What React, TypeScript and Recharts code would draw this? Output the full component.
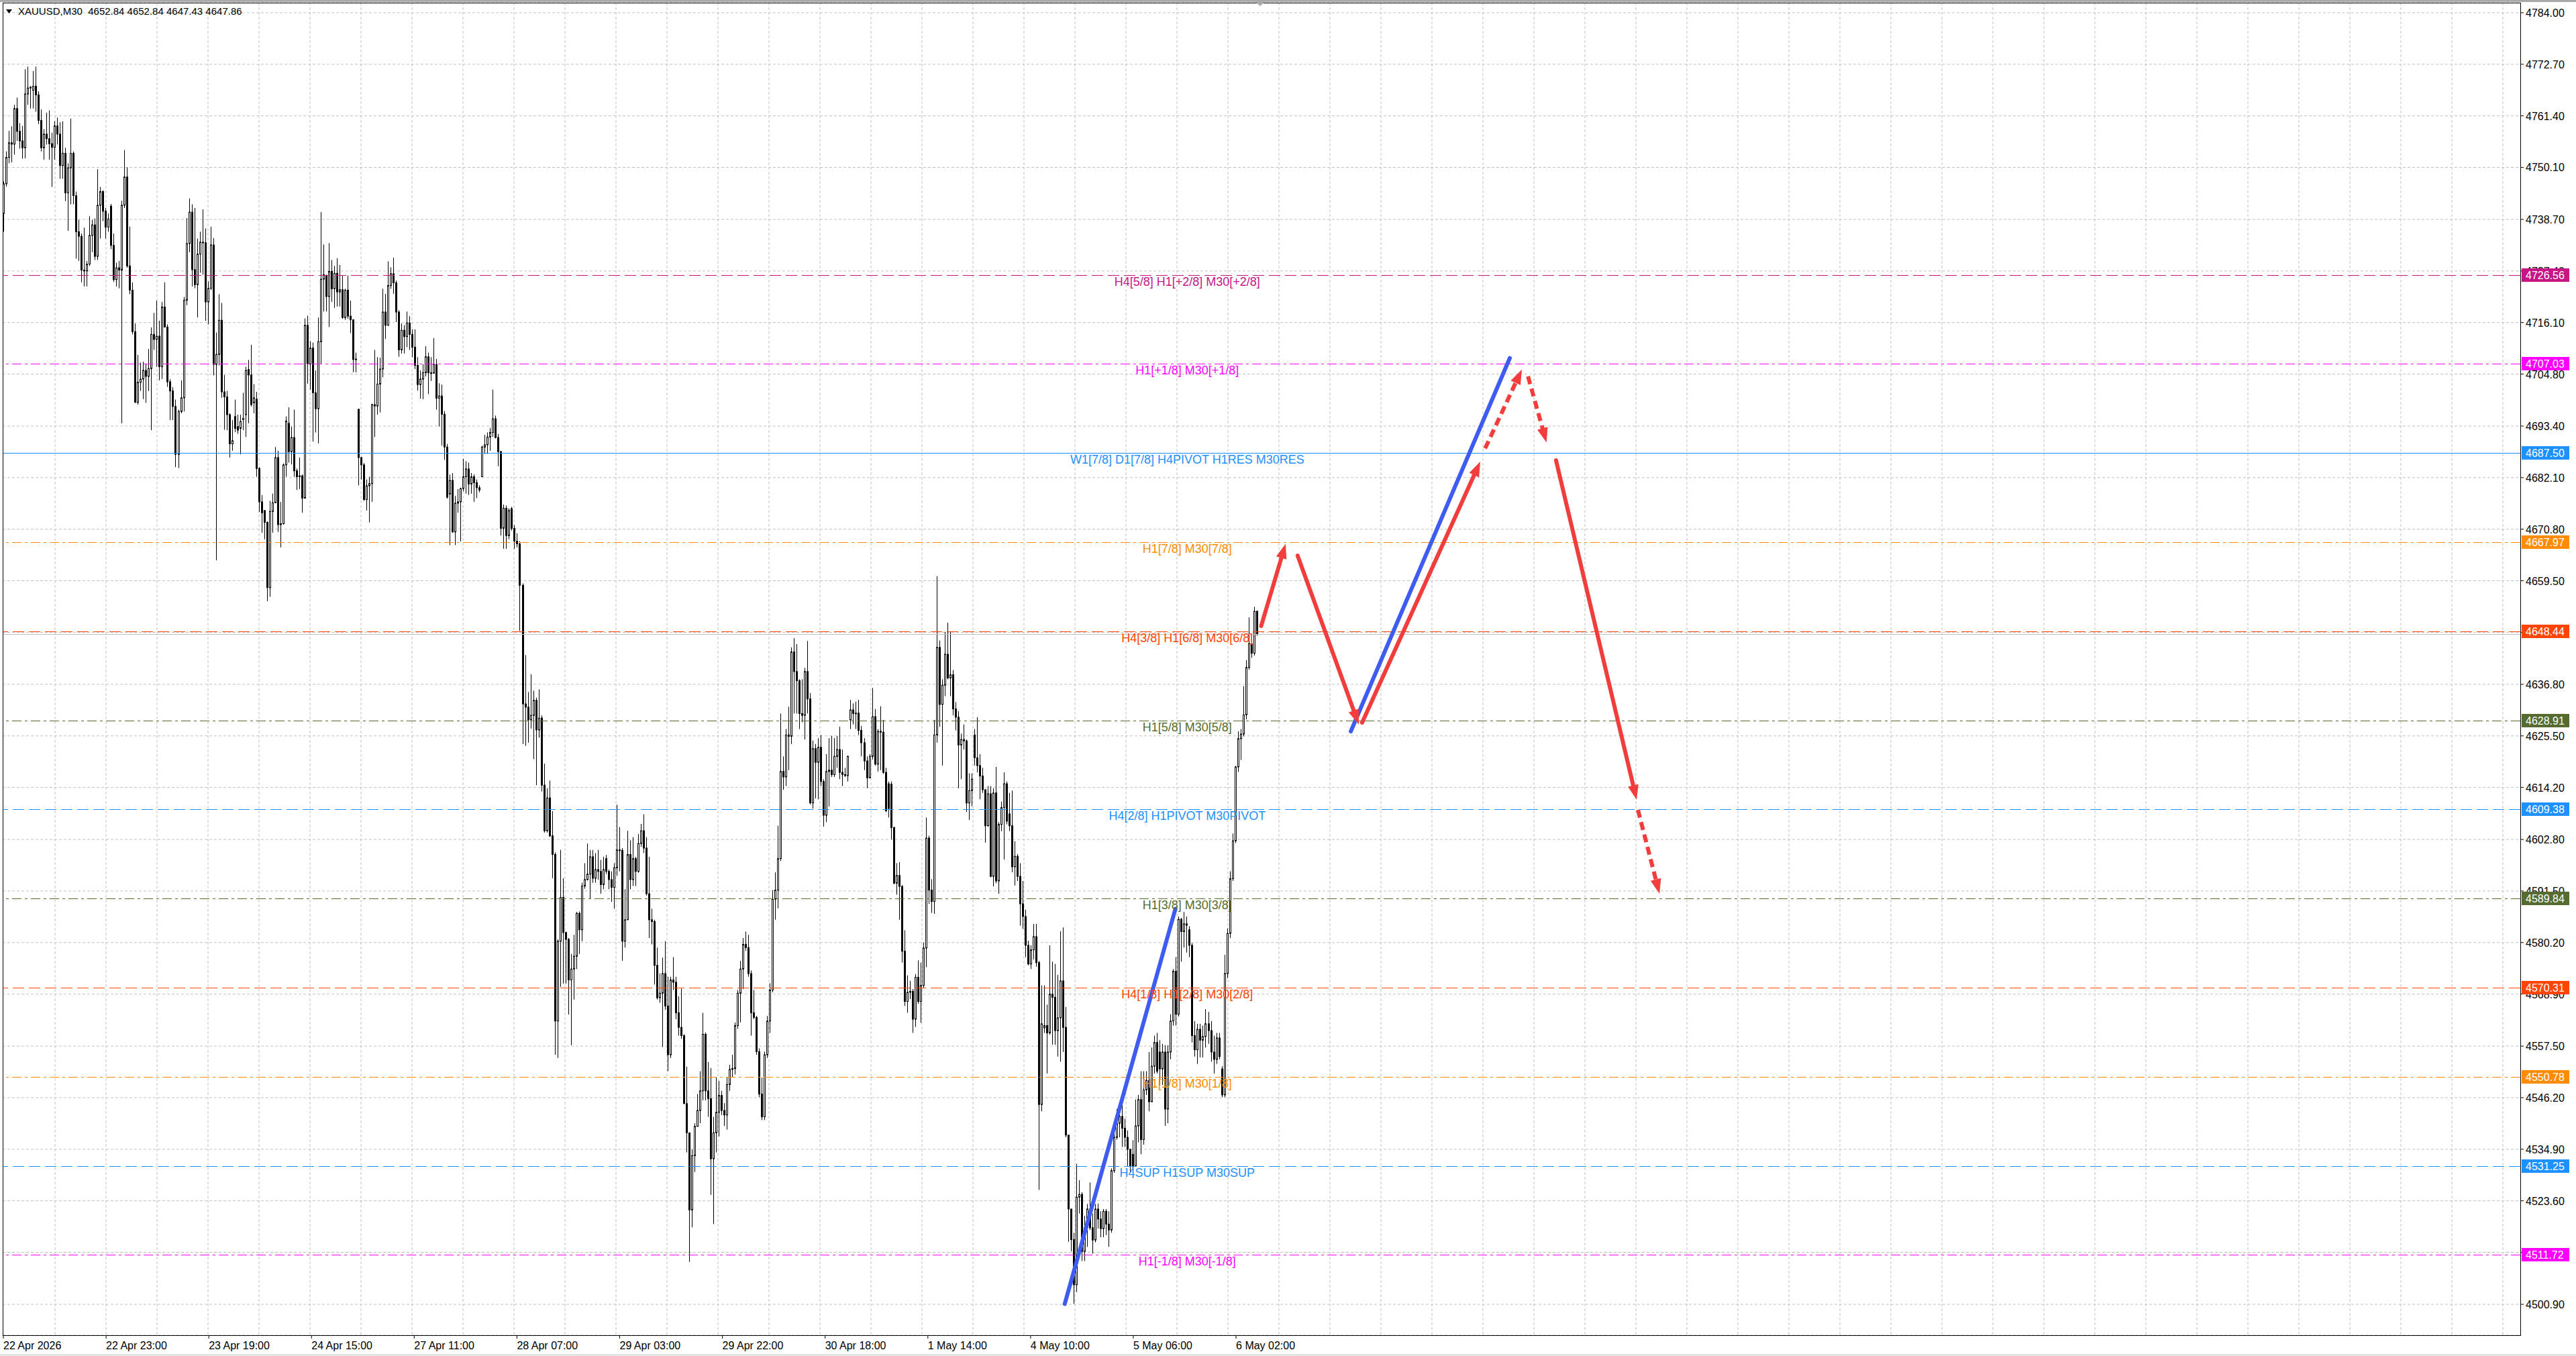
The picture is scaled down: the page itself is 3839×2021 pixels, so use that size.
import React from 'react';
import {
  ComposedChart,
  Bar,
  XAxis,
  YAxis,
  CartesianGrid,
  ReferenceLine,
  ReferenceDot,
} from 'recharts';

// XAUUSD M30 candles, [open, high, low, close] left to right
const CANDLES_A: [number, number, number, number][] = [
  [4740, 4747, 4736, 4746.5], [4746.5, 4753.6, 4745.9, 4752.3], [4752.3, 4758.1, 4751, 4755.5], [4755.5, 4759.1, 4751.2, 4755.2],
  [4755.2, 4763.8, 4752.9, 4763], [4763, 4765.4, 4755.9, 4758], [4758, 4759.8, 4754.2, 4755.9], [4755.9, 4759.2, 4752, 4754.4],
  [4754.4, 4771.6, 4752.1, 4766.2], [4766.2, 4772.2, 4763.8, 4767.5], [4767.5, 4767.9, 4763, 4767.7], [4767, 4771.2, 4763, 4767.9],
  [4767.9, 4772.2, 4762.3, 4766], [4766, 4766.8, 4759.6, 4760.4], [4760.4, 4762.8, 4753.6, 4754.4], [4754.4, 4758.5, 4751.8, 4757.4],
  [4757.4, 4762.1, 4755.1, 4756.4], [4756.4, 4762.6, 4751.8, 4755.3], [4755.3, 4757.7, 4745.8, 4754.5], [4754.5, 4760.2, 4751.8, 4759.2],
  [4759.2, 4761, 4755.1, 4757.4], [4757.4, 4760, 4747.6, 4750.5], [4750.5, 4760.2, 4747.6, 4753.2], [4753.2, 4754.4, 4742.7, 4744.5],
  [4744.5, 4751, 4736.2, 4750], [4750, 4760.8, 4742, 4753.2], [4753.2, 4753.6, 4742, 4743.9], [4743.9, 4744.8, 4730.1, 4736],
  [4736, 4738.6, 4729.6, 4735], [4735, 4735.6, 4724.9, 4727.6], [4727.6, 4736.9, 4724, 4727.4], [4727.4, 4729.6, 4724, 4728.9],
  [4728.9, 4739.4, 4728.5, 4735.2], [4735.2, 4738.6, 4731.5, 4737.5], [4737.5, 4738.9, 4729.8, 4730.6], [4730.6, 4749.7, 4729.8, 4741.8],
  [4741.8, 4745.8, 4734.5, 4744.8], [4744.8, 4745.1, 4738.3, 4740.5], [4740.5, 4741.2, 4734.5, 4737], [4737, 4740, 4736, 4738.8],
  [4741.6, 4742.1, 4732.2, 4733], [4733, 4735.6, 4725, 4725.5], [4725.5, 4729.2, 4724, 4728.1], [4728.1, 4729.6, 4723.6, 4727.6],
  [4727.6, 4742.8, 4694, 4741.8], [4741.8, 4753.9, 4741.2, 4748], [4748, 4750.1, 4728.1, 4728.5], [4728.5, 4737.1, 4722.3, 4723.2],
  [4723.2, 4724.9, 4713.5, 4714.1], [4714.1, 4715.9, 4698.5, 4698.6], [4698.6, 4709, 4698.1, 4703], [4703, 4707.3, 4701.1, 4703.7],
  [4703.7, 4707.5, 4699.3, 4705.6], [4705.6, 4707.1, 4698.5, 4704.3], [4704.3, 4710.3, 4701.1, 4706], [4706, 4715, 4692.5, 4713.5],
  [4713.5, 4718.2, 4710.1, 4712.4], [4712.4, 4720.9, 4706.4, 4713.1], [4713.1, 4716.5, 4703.4, 4706.4], [4706.4, 4720.6, 4703.7, 4719.5],
  [4719.5, 4724.9, 4715, 4715.1], [4715.1, 4715.7, 4702, 4703.1], [4703.1, 4703.7, 4694.7, 4701.1], [4701.1, 4701.9, 4694.7, 4697.7],
  [4697.7, 4699.2, 4684.4, 4687.2], [4687.2, 4697, 4684.2, 4696.6], [4696.6, 4703.4, 4696.2, 4699.6], [4699.6, 4721.7, 4696.6, 4721],
  [4721, 4739, 4719.9, 4733.4], [4733.4, 4743.3, 4731.5, 4740.3], [4740.3, 4742, 4724, 4727.7], [4727.7, 4741.2, 4723.6, 4724.4],
  [4724.4, 4734.5, 4717.2, 4731.1], [4731.1, 4736, 4727, 4733.7], [4733.7, 4740.9, 4726.6, 4733.6], [4733.6, 4736.7, 4716.5, 4720.6],
  [4720.6, 4725.1, 4715.7, 4723.6], [4723.6, 4737.1, 4723.2, 4733.1], [4733.1, 4734.6, 4704.5, 4706.9], [4706.9, 4713.9, 4664, 4709.1],
  [4709.1, 4722.3, 4706.7, 4716.6], [4716.6, 4720.4, 4699.6, 4700.9], [4700.9, 4704.6, 4692.6, 4699.8], [4699.8, 4701.1, 4692.5, 4695.9],
  [4695.9, 4696.2, 4686.5, 4689.5], [4689.5, 4694.7, 4688, 4690.2], [4695.5, 4699.2, 4692.1, 4692.9], [4693.3, 4695.9, 4691.7, 4692.5],
  [4692.9, 4695.9, 4687.2, 4694.4], [4694.8, 4700.7, 4692.5, 4695.1], [4695.9, 4706.4, 4691, 4705.6], [4705.8, 4707.9, 4694, 4704.6],
  [4704.6, 4711.2, 4697.7, 4698.1], [4698.5, 4702.6, 4696.2, 4699.6],
];

const CANDLES_B: [number, number, number, number][] = [
  [4699.3, 4700.9, 4682.3, 4684.1], [4684.1, 4684.4, 4674.6, 4676.8], [4676.8, 4678.3, 4670, 4674.4], [4674.9, 4674.9, 4668.6, 4672.3],
  [4672.3, 4672.5, 4655, 4658], [4658, 4677, 4656, 4674.7], [4674.7, 4678.6, 4670, 4676.6], [4676.6, 4688.8, 4676.5, 4686.5],
  [4686.5, 4688, 4670.2, 4671.8], [4671.8, 4676.8, 4666.8, 4672], [4672, 4685.2, 4671.8, 4684.9], [4684.9, 4695.5, 4682.3, 4694.5],
  [4694, 4697.5, 4685.4, 4687.8], [4687.8, 4693.3, 4685, 4690.9], [4690.9, 4697, 4682.3, 4683.6], [4683.6, 4684.1, 4679.4, 4682.3],
  [4682.3, 4686.5, 4679.6, 4682.5], [4682.5, 4682.8, 4674.4, 4677.6], [4677.6, 4717, 4677.6, 4715.5], [4715.5, 4717.6, 4702.7, 4707],
  [4707, 4712, 4701.4, 4710.5], [4710.5, 4711.7, 4690, 4700.7], [4700.7, 4705.6, 4692, 4697.2], [4697.2, 4717.2, 4689.6, 4711.9],
  [4711.9, 4740.3, 4707, 4725.6], [4725.6, 4733.2, 4718.5, 4726.6], [4726.4, 4726.6, 4718.5, 4721.8], [4721.8, 4733.5, 4715.1, 4727.3],
  [4727.3, 4729.8, 4720.6, 4723.5], [4723.5, 4728.5, 4719.3, 4726.9], [4726.9, 4730.2, 4719.6, 4722.8], [4722.8, 4728.7, 4719.6, 4723.3],
  [4723.3, 4726.4, 4716.9, 4717.2], [4717.2, 4723.5, 4716.7, 4723.2], [4723.2, 4726.4, 4716.9, 4717.5], [4717.5, 4720.9, 4713.8, 4716.7],
  [4716.7, 4716.7, 4705.2, 4708], [4708, 4709.5, 4705.2, 4708.1],
  [4697.1, 4697.1, 4680.4, 4686.5], [4686.5, 4686.7, 4681.7, 4684.9], [4684.9, 4685.3, 4677, 4677.3], [4677.3, 4681.7, 4674.9, 4680.3],
  [4680.3, 4682.3, 4672.3, 4680.8], [4680.8, 4698.3, 4676.8, 4698.1], [4698.1, 4710.1, 4691, 4697.8], [4697.8, 4708.5, 4695.9, 4702.6],
  [4702.6, 4708.4, 4696.4, 4705.9], [4705.9, 4723.5, 4704.1, 4718.4], [4718.4, 4722.4, 4712.5, 4715.5], [4715.5, 4729.5, 4715.4, 4724.2],
  [4724.2, 4728.2, 4723.5, 4726.8], [4726.8, 4730.3, 4722.4, 4724.8], [4724.8, 4725.3, 4716.2, 4718.4], [4718.4, 4718.8, 4708.6, 4710.1],
  [4710.1, 4715.9, 4709.3, 4714.4], [4714.4, 4715.5, 4709.3, 4713], [4713, 4718.5, 4710.7, 4716], [4716, 4717.5, 4710.1, 4713.5],
  [4713.5, 4714.6, 4708.5, 4710.7], [4710.7, 4714.6, 4705.9, 4706.7], [4706.7, 4708.5, 4701.2, 4702.5], [4702.5, 4705.6, 4699.4, 4703.7],
  [4703.7, 4707, 4699.3, 4705.1], [4705.1, 4710.9, 4704.3, 4708.6], [4708.6, 4709.5, 4700.4, 4705.1], [4705.1, 4708.5, 4703.3, 4705],
  [4705, 4712.7, 4704.9, 4706.9], [4706.9, 4708.1, 4697, 4699.5], [4699.5, 4702.8, 4693.3, 4700], [4700, 4702.5, 4689.1, 4696],
  [4696, 4696.7, 4686, 4688.8], [4688.8, 4689.5, 4677.5, 4677.8], [4678.5, 4682.8, 4667.3, 4681.5], [4681.5, 4683.1, 4670, 4670.2],
  [4670.2, 4678.1, 4667.3, 4676.5], [4676.5, 4679.6, 4674.4, 4676.8], [4676.8, 4679.9, 4668.1, 4679.7], [4679.7, 4686.2, 4679.1, 4682.3],
  [4682.3, 4685.7, 4678.6, 4684], [4684, 4685.4, 4678.3, 4680.7], [4680.7, 4683.1, 4678.6, 4682.3], [4682.3, 4682.8, 4676.8, 4681],
  [4681, 4681.7, 4677.6, 4679.9], [4679.9, 4680.4, 4678.9, 4679.4], [4682.3, 4689.1, 4682.3, 4688.8], [4688.8, 4691.5, 4687.3, 4689.3],
  [4689.3, 4692, 4687.3, 4691], [4691, 4693, 4688, 4692], [4692, 4701.4, 4691, 4695], [4695, 4695.7, 4690.7, 4690.9],
  [4690.9, 4691.7, 4684.6, 4687.8], [4687.8, 4688, 4669.4, 4671], [4671, 4676.2, 4666.5, 4675.4], [4675.4, 4676, 4666.5, 4669.4],
  [4669.4, 4675.4, 4668.6, 4674.9],
];

const CANDLES_C: [number, number, number, number][] = [
  [4675.3, 4675.7, 4670.5, 4671], [4671, 4671.7, 4666.5, 4668.2], [4668.2, 4669.9, 4666.8, 4667.6], [4667.6, 4668.2, 4648.5, 4658.5],
  [4658.5, 4658.9, 4623.7, 4632.5], [4632.5, 4643.2, 4623.3, 4631.8], [4631.8, 4635.1, 4624, 4629], [4629, 4639, 4627.1, 4630],
  [4630, 4635.4, 4620.4, 4633.3], [4633.3, 4633.9, 4614.7, 4626.8], [4626.8, 4635.7, 4625.1, 4629.4], [4629.4, 4630, 4613.3, 4614.7],
  [4614.7, 4619.4, 4604.3, 4604.7], [4604.7, 4614, 4604.3, 4611.9], [4611.9, 4615.7, 4603.3, 4603.6], [4603.6, 4609, 4594.3, 4599.5],
  [4599.5, 4600, 4555.6, 4563], [4563, 4580.9, 4554.9, 4580.5], [4580.5, 4600.5, 4570.5, 4590.1], [4590.1, 4594.3, 4571.2, 4582.4],
  [4582.4, 4582.6, 4571.2, 4580.9], [4580.9, 4581.2, 4564.4, 4572], [4572, 4577.7, 4557.7, 4574.4], [4574.4, 4581.9, 4567.7, 4577.2],
  [4577.2, 4586.9, 4574.4, 4586.6], [4586.6, 4587, 4577.7, 4583], [4583, 4593.3, 4580.5, 4592.6], [4592.6, 4597.6, 4592, 4594],
  [4594, 4601.9, 4593.8, 4595.2], [4595.2, 4600.5, 4589.8, 4599], [4599, 4600.5, 4593.3, 4594.3], [4594.3, 4599.8, 4593.3, 4596.2],
  [4596.2, 4600.5, 4594, 4595.8], [4595.8, 4598.3, 4590.9, 4592.9], [4592.9, 4599, 4591.9, 4596.2], [4598.6, 4599.4, 4595.2, 4595.8],
  [4595.8, 4596.2, 4591.9, 4594], [4594, 4595.8, 4589.1, 4592.3], [4592.3, 4597.6, 4587.6, 4596.6], [4596.6, 4610.4, 4594.8, 4600.5],
  [4600.5, 4605.5, 4595.8, 4600.4], [4600.4, 4600.9, 4576.2, 4580.5], [4580.5, 4591.9, 4579.1, 4585.2], [4585.2, 4604.7, 4585.2, 4599.5],
  [4599.5, 4602.6, 4591.9, 4594], [4594, 4603.3, 4592.6, 4598.6], [4598.6, 4599, 4592.6, 4595.8], [4595.8, 4604, 4595.5, 4601.9],
  [4601.9, 4606.2, 4601.2, 4604.7], [4604.7, 4608.3, 4599.8, 4600.9], [4600.9, 4603.3, 4590.5, 4590.9], [4590.9, 4599, 4581.2, 4585.2],
  [4585.2, 4587.6, 4579.8, 4584.8], [4584.8, 4585.2, 4571, 4575.2], [4575.2, 4579.1, 4567.7, 4568.1], [4568.1, 4573.4, 4567, 4569.1],
  [4569.1, 4576.9, 4557.3, 4573.4], [4573.4, 4580.5, 4565.5, 4566.3], [4566.3, 4572.7, 4552, 4555.6], [4555.6, 4572.7, 4554.9, 4572],
  [4572, 4577, 4569.8, 4571.5], [4571.5, 4572.7, 4563.4, 4564.8], [4564.8, 4568.4, 4559.8, 4561.6], [4561.6, 4570.1, 4559.1, 4559.8],
  [4559.8, 4560.1, 4544.9, 4544.9], [4544.9, 4553, 4534.2, 4538.5], [4538.5, 4538.5, 4510.2, 4521.6], [4521.6, 4534.9, 4517.8, 4533.5],
  [4533.5, 4540.6, 4529.9, 4539.9], [4539.9, 4547, 4539.9, 4543.4], [4543.4, 4552, 4540.6, 4547.7], [4547.7, 4564.8, 4545.6, 4560.1],
  [4560.1, 4560.5, 4545.6, 4547.7], [4547.7, 4554, 4542, 4546], [4546, 4552.7, 4524.9, 4532.8], [4532.8, 4542, 4518.5, 4538.5],
  [4538.5, 4550.6, 4534.2, 4543], [4543, 4549.9, 4537.7, 4546.7], [4546.7, 4547.7, 4542.4, 4543.4], [4543.4, 4545, 4540, 4542.4],
  [4542.4, 4550.6, 4539.2, 4549.1], [4549.1, 4553.4, 4547.7, 4552.4], [4552.4, 4555.6, 4550.6, 4552.6], [4552.6, 4562.7, 4551.3, 4562],
  [4562, 4569.8, 4561.3, 4569.1], [4569.1, 4576.2, 4562.7, 4574.4], [4574.4, 4581.2, 4570, 4579.8], [4579.8, 4582.6, 4578.4, 4579.1],
  [4579.1, 4581.9, 4572.7, 4573.4], [4573.4, 4574.1, 4559.8, 4564.8], [4564.8, 4569.8, 4563.4, 4563.8], [4563.8, 4564.1, 4555.6, 4556.3],
  [4556.3, 4557, 4546.3, 4547], [4547, 4550.6, 4541.3, 4542], [4542, 4556.3, 4541.3, 4555.6], [4555.6, 4564.1, 4554.9, 4563],
];

const CANDLES_D: [number, number, number, number][] = [
  [4563, 4571.3, 4560.4, 4569.8], [4569.8, 4591.7, 4569.3, 4589.7], [4589.7, 4595.6, 4585.2, 4591.7], [4591.7, 4605.8, 4587.7, 4598.6],
  [4598.6, 4630.4, 4598.1, 4617.7], [4617.7, 4621, 4613.7, 4616.5], [4616.5, 4627, 4614.5, 4625.7], [4625.7, 4631.9, 4618, 4625.4],
  [4625.4, 4644.9, 4623.7, 4643.9], [4643.9, 4646.9, 4630.4, 4639.6], [4639.6, 4645.6, 4630.4, 4637.6], [4637.6, 4637.9, 4627, 4630.4],
  [4630.4, 4637.9, 4628.5, 4630], [4630, 4640.4, 4624.7, 4639.6], [4639.6, 4646.3, 4630.4, 4633.6], [4633.6, 4634.9, 4610.5, 4610.8],
  [4610.8, 4624.5, 4609.6, 4622.7], [4622.7, 4623.7, 4611.8, 4619.7], [4619.7, 4625, 4611.6, 4623], [4623, 4625.7, 4614.5, 4615.5],
  [4615.5, 4616, 4605.6, 4608.1], [4608.1, 4621.5, 4606.6, 4617.7], [4617.7, 4625, 4610, 4618], [4618, 4625.5, 4616.5, 4617],
  [4617, 4625, 4616.5, 4621], [4621, 4625.5, 4618.5, 4622.5], [4622.5, 4627.5, 4616, 4617.5], [4617.5, 4622.5, 4614.5, 4617],
  [4617, 4618.5, 4616.5, 4616.8], [4616.8, 4621.2, 4615.5, 4621], [4629, 4633.4, 4627, 4631.2], [4631.2, 4632.6, 4628, 4630.4],
  [4630.4, 4633, 4627, 4630.5], [4630.5, 4633.4, 4625.7, 4626.7], [4626.7, 4627.7, 4621, 4624], [4624, 4625, 4618, 4620],
  [4620, 4621, 4614, 4616.3], [4616.3, 4621.5, 4616.3, 4621], [4621, 4636, 4620.3, 4629.7], [4629.7, 4631.4, 4619, 4619.3],
  [4619.3, 4627, 4617.7, 4626.5], [4626.5, 4632, 4618, 4626.3], [4626.3, 4629, 4617.2, 4617.5], [4617.5, 4618.5, 4608.8, 4609.1],
  [4615, 4615.5, 4607.6, 4609.6], [4614.9, 4615.5, 4602.8, 4605.4], [4605.4, 4605.6, 4593, 4593.2], [4593.2, 4597.6, 4590.7, 4594.9],
  [4594.9, 4597.8, 4585.2, 4592.5], [4592.5, 4592.8, 4575.8, 4578.3], [4578.3, 4582.9, 4566.3, 4567.3], [4567.3, 4573, 4564.8, 4569.3],
  [4569.3, 4571.8, 4567.8, 4569.5], [4569.5, 4570, 4560.4, 4563.4], [4563.4, 4573.3, 4561.7, 4572.6], [4572.6, 4576.3, 4566.8, 4567.3],
  [4567.3, 4575.8, 4562.6, 4570.8], [4570.8, 4580.2, 4570.3, 4579], [4579, 4607.6, 4574.8, 4603.1], [4603.1, 4603.6, 4588.7, 4591.7],
  [4591.7, 4594.1, 4586.7, 4589.2], [4589.2, 4629, 4586.5, 4625.7], [4625.7, 4660.5, 4624, 4644.9], [4644.9, 4646.4, 4627.5, 4632.4],
  [4632.4, 4637.9, 4619, 4636.6], [4636.6, 4648.3, 4634.2, 4643.4], [4643.4, 4650.3, 4637.9, 4638.2], [4638.2, 4648.3, 4634.2, 4638.9],
  [4638.9, 4639.9, 4630, 4631.4], [4631.4, 4632.9, 4626.7, 4629.6], [4629.6, 4630.9, 4614, 4623.5], [4623.5, 4626, 4616, 4624.7],
  [4624.7, 4628, 4622.5, 4624.4], [4624.4, 4624.7, 4608.8, 4610.8], [4610.8, 4617.3, 4607.1, 4613.5], [4613.5, 4617.3, 4610.1, 4616],
  [4625.7, 4627, 4619, 4620.7], [4620.7, 4629.6, 4617.5, 4619], [4619, 4621.5, 4611.6, 4616.7], [4616.7, 4618.5, 4613, 4613.7],
  [4613.7, 4613.8, 4602.1, 4605.8], [4605.8, 4614.5, 4605.6, 4612.8], [4612.8, 4614.5, 4594.5, 4594.7], [4594.7, 4614, 4592.5, 4613],
  [4613, 4618.7, 4593.2, 4593.7], [4593.7, 4606.6, 4590.9, 4606.1], [4606.1, 4611.1, 4604.6, 4609.8], [4609.8, 4617.5, 4598.4, 4615],
  [4615, 4615.5, 4606.1, 4606.8], [4608.4, 4613, 4604.6, 4605.8], [4605.8, 4613.5, 4595.6, 4596.8], [4596.8, 4602.4, 4592.7, 4599.1],
  [4599.1, 4599.6, 4593.7, 4594.7], [4594.7, 4597.6, 4583.9, 4588.7], [4588.7, 4593.7, 4583.2, 4585.9],
];

const CANDLES_E: [number, number, number, number][] = [
  [4585.9, 4587.4, 4577, 4579.6], [4579.6, 4580.6, 4575.2, 4575.5], [4575.5, 4579.6, 4574.4, 4578.6], [4578.6, 4584.3, 4576.5, 4581.5],
  [4581.5, 4584.3, 4574.9, 4575.8], [4575.8, 4576.2, 4526, 4544.7], [4544.7, 4570.8, 4543.2, 4562.4], [4561.5, 4570.8, 4560.4, 4562],
  [4562, 4566.6, 4551.5, 4560.4], [4560.4, 4579.6, 4560, 4568.9], [4568.9, 4576, 4557.8, 4568.2], [4568.2, 4575.5, 4557.8, 4560.9],
  [4560.9, 4573.1, 4555.2, 4563.7], [4563.7, 4582.7, 4554.1, 4571.8], [4571.8, 4583.5, 4556.2, 4561.6], [4561.6, 4566.1, 4537.5, 4538],
  [4538, 4538, 4514.6, 4521.8], [4521.8, 4521.8, 4512.5, 4515.1], [4515.1, 4516.6, 4501, 4505.2], [4505.2, 4531.7, 4503.6, 4524.4],
  [4524.4, 4528.1, 4520.8, 4525], [4525, 4525.5, 4510.4, 4512.5], [4512.5, 4520.3, 4510.4, 4517.7], [4517.7, 4522.9, 4513.5, 4521.8],
  [4521.8, 4527.6, 4517.2, 4517.7], [4517.7, 4520.8, 4512, 4515], [4515, 4522.9, 4514.5, 4521.8], [4521.8, 4523, 4517.5, 4519.6],
  [4519.6, 4521.3, 4515.6, 4517.5], [4517.5, 4521.8, 4515.6, 4521.3], [4521.3, 4521.8, 4516.1, 4518.5], [4518.5, 4521.3, 4513.5, 4517.2],
  [4517.2, 4530.7, 4516.6, 4530.2], [4530.2, 4540.6, 4529.7, 4537.5], [4537.5, 4543.7, 4537, 4540.6], [4540.6, 4544.2, 4537.5, 4542.1],
  [4542.1, 4544.7, 4535.4, 4539.5], [4539.5, 4541.6, 4535.4, 4537.5], [4537.5, 4539, 4531.2, 4534.9], [4534.9, 4534.9, 4529.7, 4531.2],
  [4533.8, 4536.9, 4528.6, 4531.2], [4531.2, 4545.8, 4531.2, 4540], [4540, 4546.8, 4536.4, 4545.8], [4545.8, 4552, 4533.8, 4537],
  [4537, 4552, 4535.9, 4547.9], [4547.9, 4552, 4546.8, 4550], [4550, 4556.2, 4543.2, 4545.3], [4545.3, 4557.2, 4545.3, 4553.1],
  [4553.1, 4559.8, 4551.5, 4558.3], [4558.3, 4560.4, 4551.5, 4552], [4556.2, 4558.8, 4548.9, 4552.5], [4552.5, 4558, 4549, 4556.2],
  [4556.2, 4557.7, 4540, 4543.7], [4543.7, 4557.7, 4540.6, 4556.2], [4556.2, 4564.5, 4554.6, 4563], [4563, 4574.4, 4562, 4573.9],
  [4573.9, 4577, 4562, 4564.5], [4564.5, 4585.9, 4564, 4585.3], [4585.3, 4585.6, 4576, 4582.6], [4582.6, 4586.9, 4579.1, 4584.3],
  [4584.3, 4585.9, 4578, 4584], [4583, 4583.8, 4577, 4579.6], [4579.6, 4580.1, 4558.3, 4559.8], [4559.8, 4563, 4555.2, 4556.7],
  [4556.7, 4562.4, 4553.6, 4561.2], [4561.2, 4562.4, 4555, 4558.8], [4558.8, 4562, 4555, 4559.6], [4559.6, 4565.6, 4557.2, 4562.4],
  [4562.4, 4565, 4558, 4560.9], [4560.9, 4563, 4554.1, 4556.2], [4556.2, 4559.8, 4551.5, 4554.6], [4554.6, 4560.4, 4553.6, 4559.3],
  [4559.3, 4560.4, 4554.6, 4555.2], [4552.5, 4553.1, 4546.3, 4546.8], [4546.8, 4577.5, 4546.3, 4573.4], [4573.4, 4583.3, 4572.4, 4582.2],
  [4582.2, 4595.8, 4581.2, 4594.2], [4594.2, 4604.1, 4593.7, 4602.5], [4602.5, 4618.9, 4602, 4618.7], [4618.7, 4626.5, 4617.6, 4624.9],
  [4624.9, 4627, 4620.2, 4625.9], [4625.9, 4636.4, 4625.4, 4630.1], [4630.1, 4642.1, 4629.1, 4640.5], [4640.5, 4651.5, 4640, 4645.7],
  [4645.7, 4647.8, 4642.6, 4643.6], [4643.6, 4653.8, 4643.1, 4652.8], [4652.84, 4652.84, 4647.43, 4647.86],
];

const CANDLES = [...CANDLES_A, ...CANDLES_B, ...CANDLES_C, ...CANDLES_D, ...CANDLES_E];

// time axis: one label every 40 bars
const TIME_LABELS = [
  '22 Apr 2026', '22 Apr 23:00', '23 Apr 19:00', '24 Apr 15:00', '27 Apr 11:00', '28 Apr 07:00', '29 Apr 03:00',
  '29 Apr 22:00', '30 Apr 18:00', '1 May 14:00', '4 May 10:00', '5 May 06:00', '6 May 02:00',
];
const BARS_PER_LABEL = 40;
const LAST_BAR = 488;

const PRICE_TICKS = [
  4500.9, 4512.3, 4523.6, 4534.9, 4546.2, 4557.5, 4568.9, 4580.2, 4591.5, 4602.8, 4614.2, 4625.5, 4636.8,
  4648.2, 4659.5, 4670.8, 4682.1, 4693.4, 4704.8, 4716.1, 4727.4, 4738.7, 4750.1, 4761.4, 4772.7, 4784.0,
];

// Murrey-math style levels
const LEVEL_PRICES = [4726.56, 4707.03, 4687.5, 4667.97, 4648.44, 4628.91, 4609.38, 4589.84, 4570.31, 4550.78, 4531.25, 4511.72];
const LEVEL_LABELS = [
  'H4[5/8] H1[+2/8] M30[+2/8]',
  'H1[+1/8] M30[+1/8]',
  'W1[7/8] D1[7/8] H4PIVOT H1RES M30RES',
  'H1[7/8] M30[7/8]',
  'H4[3/8] H1[6/8] M30[6/8]',
  'H1[5/8] M30[5/8]',
  'H4[2/8] H1PIVOT M30PIVOT',
  'H1[3/8] M30[3/8]',
  'H4[1/8] H1[2/8] M30[2/8]',
  'H1[1/8] M30[1/8]',
  'H4SUP H1SUP M30SUP',
  'H1[-1/8] M30[-1/8]',
];
const BID_PRICE = 4647.86;
const LABEL_BAR = 461;

// hand-drawn projection: [fromBar, fromPrice, toBar, toPrice]
const TREND_SEGMENTS: [number, number, number, number][] = [
  [413.3, 4501.0, 456.4, 4587.6],
  [524.7, 4626.5, 586.6, 4708.3],
  [489.8, 4649.6, 499.3, 4667.6],
  [504.0, 4665.0, 527.8, 4628.0],
  [529.1, 4628.4, 575.1, 4685.6],
  [577.0, 4688.5, 591.3, 4705.8],
  [593.7, 4704.3, 600.9, 4689.8],
  [604.6, 4685.9, 636.0, 4611.5],
  [636.5, 4609.3, 644.9, 4590.9],
];

// ---- styles ----
const FONT = "'Liberation Sans', Arial, sans-serif";
const LEVEL_COLORS = ['#C71585', '#FF00FF', '#1E90FF', '#FF8C00', '#FF4500', '#556B2F', '#1E90FF', '#556B2F', '#FF4500', '#FF8C00', '#1E90FF', '#FF00FF'];
const DASH = '17 7';
const DASHDOT = '14 5 4 5';
const LEVEL_DASHES = [DASH, DASHDOT, undefined, DASHDOT, DASH, DASHDOT, DASH, DASHDOT, DASH, DASHDOT, DASH, DASHDOT];
const RED = '#F23D3D';
const BLUE = '#3F5CF2';
const TREND_STYLES = [
  { color: BLUE, dashed: false, head: false },
  { color: BLUE, dashed: false, head: false },
  { color: RED, dashed: false, head: true },
  { color: RED, dashed: false, head: true },
  { color: RED, dashed: false, head: true },
  { color: RED, dashed: true, head: true },
  { color: RED, dashed: true, head: true },
  { color: RED, dashed: false, head: true },
  { color: RED, dashed: true, head: true },
];

const W = 3839;
const H = 2021;
const M_TOP = 4;
const X_AXIS_H = 31;
const Y_AXIS_W = 83;
const X_DOMAIN: [number, number] = [-0.26, 980.1];
const Y_DOMAIN: [number, number] = [4494.14, 4786.2];
const PX_PER_PRICE = (H - M_TOP - X_AXIS_H) / (Y_DOMAIN[1] - Y_DOMAIN[0]);

const barStep = LAST_BAR / (CANDLES.length - 1);
const chartData = CANDLES.map(([o, h, l, c], i) => ({
  bar: i * barStep,
  open: o,
  close: c,
  high: Math.max(h, o, c),
  low: Math.min(l, o, c),
  range: [Math.min(l, o, c), Math.max(h, o, c)],
}));
const timeTicks = TIME_LABELS.map((_, i) => i * BARS_PER_LABEL);

// every level tag is drawn together with its nearest price tick, after that tick's text
const levelTick = LEVEL_PRICES.map((p) =>
  PRICE_TICKS.reduce((best, t) => (Math.abs(t - p) < Math.abs(best - p) ? t : best), PRICE_TICKS[0]),
);

function Candle(props: any) {
  const { x, y, width, height, payload } = props;
  if (!payload || !Number.isFinite(y) || !Number.isFinite(x)) return null;
  const top = Math.min(y, y + height);
  const hh = Math.abs(height);
  const span = payload.high - payload.low || 1;
  const k = hh / span;
  const cx = Math.round(x + width / 2) + 0.5;
  const yO = top + (payload.high - payload.open) * k;
  const yC = top + (payload.high - payload.close) * k;
  const bodyTop = Math.min(yO, yC);
  const bodyH = Math.max(Math.abs(yC - yO), 1);
  const bull = payload.close >= payload.open;
  return (
    <g>
      <line x1={cx} x2={cx} y1={top} y2={top + hh} stroke="#000" strokeWidth={1} />
      {bull ? (
        <rect x={cx - 1} y={bodyTop} width={2} height={bodyH} fill="#fff" stroke="#000" strokeWidth={1} />
      ) : (
        <rect x={cx - 1.5} y={bodyTop - 0.5} width={3} height={bodyH + 1} fill="#000" />
      )}
    </g>
  );
}

function TrendMark(props: any) {
  const { x1, y1, x2, y2, color, dashed, head } = props;
  const ang = Math.atan2(y2 - y1, x2 - x1);
  const cos = Math.cos(ang);
  const sin = Math.sin(ang);
  const len = 22;
  const half = 8;
  const ex = head ? x2 - cos * len * 0.7 : x2;
  const ey = head ? y2 - sin * len * 0.7 : y2;
  const bx = x2 - cos * len;
  const by = y2 - sin * len;
  return (
    <g>
      <line
        x1={x1}
        y1={y1}
        x2={ex}
        y2={ey}
        stroke={color}
        strokeWidth={6}
        strokeLinecap={dashed ? 'butt' : 'round'}
        strokeDasharray={dashed ? '12 7' : undefined}
      />
      {head && (
        <polygon
          points={`${x2},${y2} ${bx - sin * half},${by + cos * half} ${bx + sin * half},${by - cos * half}`}
          fill={color}
        />
      )}
    </g>
  );
}

// crisp 1px horizontal level line
function LevelLine(props: any) {
  const { x1, x2, y1, stroke, strokeDasharray } = props;
  if (!Number.isFinite(y1)) return null;
  const yy = Math.round(y1) + 0.5;
  return <line x1={x1} x2={x2} y1={yy} y2={yy} stroke={stroke} strokeWidth={1} strokeDasharray={strokeDasharray} />;
}

function TimeTick(props: any) {
  const { x, y, payload } = props;
  const idx = Math.round(payload.value / BARS_PER_LABEL);
  return (
    <g>
      <line x1={x} x2={x} y1={y} y2={y + 5} stroke="#000" strokeWidth={1} />
      <text x={x} y={y + 21} fontFamily={FONT} fontSize={16} fill="#000" textAnchor="start">
        {TIME_LABELS[idx]}
      </text>
    </g>
  );
}

function PriceTick(props: any) {
  const { x, y, payload } = props;
  const v = Number(payload.value);
  const tags = LEVEL_PRICES.map((p, i) => ({ p, i })).filter(({ i }) => levelTick[i] === v);
  return (
    <g>
      <line x1={x} x2={x + 5} y1={y} y2={y} stroke="#000" strokeWidth={1} />
      <text x={x + 8} y={y + 6} fontFamily={FONT} fontSize={16} fill="#000" textAnchor="start">
        {v.toFixed(2)}
      </text>
      {tags.map(({ p, i }) => {
        const ty = Math.round(y + (v - p) * PX_PER_PRICE);
        return (
          <g key={i}>
            <rect x={x + 2} y={ty - 10} width={71} height={20} fill={LEVEL_COLORS[i]} />
            <text x={x + 8} y={ty + 6} fontFamily={FONT} fontSize={16} fill="#fff">
              {p.toFixed(2)}
            </text>
          </g>
        );
      })}
    </g>
  );
}

export default function App() {
  return (
    <div style={{ position: 'relative', width: W, height: H, background: '#fff', overflow: 'hidden' }}>
      <style>{'body{margin:0;background:#fff}'}</style>
      <ComposedChart
        width={W}
        height={H}
        data={chartData}
        margin={{ top: M_TOP, right: 0, left: 4, bottom: 0 }}
      >
        <CartesianGrid
          stroke="#C0C0C0"
          strokeDasharray="4 3"
          verticalCoordinatesGenerator={({ offset }: any) => {
            const pts: number[] = [];
            for (let px = offset.left + 78; px < offset.left + offset.width; px += 76) pts.push(px);
            return pts;
          }}
        />
        <XAxis
          dataKey="bar"
          type="number"
          domain={X_DOMAIN}
          ticks={timeTicks}
          interval={0}
          allowDataOverflow
          axisLine={false}
          tickLine={false}
          tickSize={0}
          tickMargin={0}
          height={X_AXIS_H}
          tick={<TimeTick />}
        />
        <YAxis
          orientation="right"
          type="number"
          domain={Y_DOMAIN}
          ticks={PRICE_TICKS}
          interval={0}
          allowDataOverflow
          axisLine={false}
          tickLine={false}
          tickSize={0}
          tickMargin={0}
          width={Y_AXIS_W}
          tick={<PriceTick />}
        />
        {LEVEL_PRICES.map((p, i) => (
          <ReferenceLine
            key={`lvl-${i}`}
            y={p}
            stroke={LEVEL_COLORS[i]}
            strokeDasharray={LEVEL_DASHES[i]}
            shape={<LevelLine />}
          />
        ))}
        <ReferenceLine y={BID_PRICE} stroke="#C0C0C0" shape={<LevelLine />} />
        <Bar dataKey="range" barSize={4} shape={<Candle />} isAnimationActive={false} />
        {TREND_SEGMENTS.map(([b1, p1, b2, p2], i) => (
          <ReferenceLine
            key={`tr-${i}`}
            segment={[{ x: b1, y: p1 }, { x: b2, y: p2 }]}
            ifOverflow="visible"
            shape={(sp: any) => <TrendMark {...sp} {...TREND_STYLES[i]} />}
          />
        ))}
        {LEVEL_PRICES.map((p, i) => (
          <ReferenceDot
            key={`lbl-${i}`}
            x={LABEL_BAR}
            y={p}
            r={0}
            ifOverflow="visible"
            shape={(dp: any) => (
              <text
                x={dp.cx}
                y={dp.cy + 16}
                textAnchor="middle"
                fontFamily={FONT}
                fontSize={18}
                fill={LEVEL_COLORS[i]}
              >
                {LEVEL_LABELS[i]}
              </text>
            )}
          />
        ))}
      </ComposedChart>
      {/* frame around the price pane */}
      <div
        style={{
          position: 'absolute',
          left: 4,
          top: 4,
          width: 3753,
          height: 1987,
          border: '1px solid #000',
          boxSizing: 'border-box',
          pointerEvents: 'none',
        }}
      />
      <div style={{ position: 'absolute', left: 0, top: 0, width: W, height: 3, background: '#A9A9A9' }} />
      <div style={{ position: 'absolute', left: 0, top: H - 3, width: W, height: 3, background: '#E3E3E3' }} />
      <svg style={{ position: 'absolute', left: 0, top: 0 }} width={W} height={30}>
        <polygon points="9,14 18,14 13.5,20" fill="#000" />
        <polygon points="1871,3 1885,3 1878,9" fill="#A9A9A9" />
      </svg>
      <div
        style={{
          position: 'absolute',
          left: 27,
          top: 8,
          fontFamily: FONT,
          fontSize: 15,
          lineHeight: '18px',
          whiteSpace: 'pre',
          color: '#000',
        }}
      >
        {'XAUUSD,M30  4652.84 4652.84 4647.43 4647.86'}
      </div>
    </div>
  );
}
